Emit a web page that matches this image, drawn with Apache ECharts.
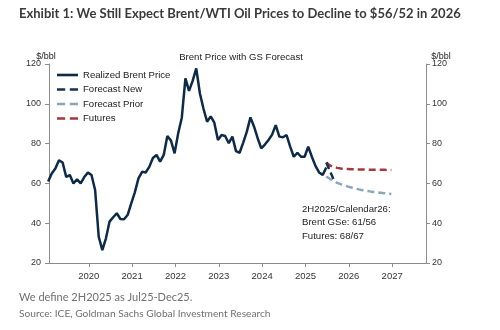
<!DOCTYPE html>
<html><head><meta charset="utf-8">
<script src="https://cdn.jsdelivr.net/npm/echarts@6/dist/echarts.min.js"></script>
<style>html,body{margin:0;padding:0;background:#fff}#c{width:500px;height:330px}</style>
</head><body><div id="c"></div>
<script>
// Monthly data, Jan 2019 .. Jun 2025 (realized Brent, $/bbl)
var realizedStart = [2019, 1];
var realized = [
  61, 65, 67.5, 71.6, 70.5, 63.3, 64.2, 60, 62, 60, 63.2, 65.4,
  64.2, 56.7, 33.2, 26.5, 32.4, 40.8, 43, 45, 42.1, 42, 44.1, 50,
  55.5, 62.5, 65.8, 65.5, 68.3, 72.8, 74.3, 70.9, 74.3, 83.8, 81.5, 75.1,
  85.2, 93, 112.8, 106.5, 111.5, 117.8, 105.3, 97.5, 91, 93.7, 90.5, 81.8,
  84.3, 83.8, 80.2, 83.5, 76.2, 75.4, 80.5, 86, 93.2, 88.5, 82.7, 77.6,
  79.5, 81.8, 84.5, 89.3, 83.5, 83.2, 84.3, 78.5, 73.4, 75.4, 73.4, 73.4,
  78.5, 73.4, 68.8, 65.5, 64.3, 68
];
// Forecasts start Jun 2025
var forecastStart = [2025, 6];
var forecastNew = [70.5, 66.3, 62];
var forecastPrior = [63.5, 62.3, 61.2, 60.3, 59.6, 59, 58.4, 57.9, 57.4, 57, 56.6, 56.3, 56, 55.7, 55.5, 55.3, 55.1, 54.9, 54.7];
var futures = [70.5, 69, 68.2, 67.8, 67.5, 67.3, 67.2, 67.1, 67.05, 67, 67, 66.9, 66.9, 66.85, 66.8, 66.8, 66.8, 66.75, 66.7];
var yearTicks = [2020, 2021, 2022, 2023, 2024, 2025, 2026, 2027];

function toPoints(start, vals) {
  return vals.map(function (v, i) {
    var m = start[1] + i; // month index, 1-based
    var y = start[0] + Math.floor((m - 1) / 12);
    var mm = ((m - 1) % 12) + 1;
    return [y + mm / 12 - 0.02, v];
  });
}

var font = '"Liberation Sans", Arial, sans-serif';
var axisCol = '#8c8c8c';
var solidIcon = 'path://M0,0H21V2.6H0Z';
var dashIcon = 'path://M0,0H8V2.6H0Z M12.5,0H20.5V2.6H12.5Z';
var chart = echarts.init(document.getElementById('c'), null, {renderer: 'canvas'});
chart.setOption({
  animation: false,
  backgroundColor: '#fff',
  grid: {left: 49, right: 74, top: 64, bottom: 67},
  title: [
    {text: 'Exhibit 1: We Still Expect Brent/WTI Oil Prices to Decline to $56/52 in 2026', left: 14, top: 2,
     textStyle: {fontFamily: 'Lato', fontWeight: 'bold', fontSize: 13, color: '#3a3a3a'}},
    {text: 'Brent Price with GS Forecast', left: 236, top: 47, textAlign: 'center',
     textStyle: {fontFamily: font, fontWeight: 'normal', fontSize: 9.6, color: '#222'}},
    {text: '$/bbl', left: 41, top: 47, textAlign: 'center',
     textStyle: {fontFamily: font, fontWeight: 'normal', fontSize: 9, color: '#222'}},
    {text: '$/bbl', left: 436, top: 47, textAlign: 'center',
     textStyle: {fontFamily: font, fontWeight: 'normal', fontSize: 9, color: '#222'}},
    {text: 'We define 2H2025 as Jul25-Dec25.', left: 14, top: 287,
     textStyle: {fontFamily: 'Lato', fontWeight: 'normal', fontSize: 11, color: '#707070'}},
    {text: 'Source: ICE, Goldman Sachs Global Investment Research', left: 14, top: 304,
     textStyle: {fontFamily: 'Lato', fontWeight: 'normal', fontSize: 10.2, color: '#707070'}}
  ],
  legend: {
    orient: 'vertical', left: 57, top: 70, padding: 0, itemWidth: 21, itemHeight: 3, itemGap: 4.5,
    textStyle: {fontFamily: font, fontSize: 9.6, color: '#222', padding: [0, 0, 0, 0]},
    data: [
      {name: 'Realized Brent Price', icon: solidIcon},
      {name: 'Forecast New', icon: dashIcon},
      {name: 'Forecast Prior', icon: dashIcon},
      {name: 'Futures', icon: dashIcon}
    ]
  },
  xAxis: {
    type: 'value', min: 2019.083, max: 2027.78,
    axisLine: {lineStyle: {color: axisCol}},
    axisTick: {show: true, length: 4, customValues: yearTicks, lineStyle: {color: axisCol}},
    axisLabel: {customValues: yearTicks, fontFamily: font, fontSize: 9.5, color: '#333', margin: 8,
      formatter: function (v) { return String(Math.round(v)); }},
    splitLine: {show: false}
  },
  yAxis: [
    {type: 'value', min: 20, max: 120, interval: 20, position: 'left',
     axisLine: {show: true, lineStyle: {color: axisCol}},
     axisTick: {show: true, length: 4, lineStyle: {color: axisCol}},
     axisLabel: {fontFamily: font, fontSize: 9, color: '#333', margin: 8},
     splitLine: {show: false}},
    {type: 'value', min: 20, max: 120, interval: 20, position: 'right',
     axisLine: {show: true, lineStyle: {color: axisCol}},
     axisTick: {show: true, length: 4, lineStyle: {color: axisCol}},
     axisLabel: {fontFamily: font, fontSize: 9, color: '#333', margin: 6},
     splitLine: {show: false}}
  ],
  graphic: [{
    type: 'text', left: 302, top: 203,
    style: {text: '2H2025/Calendar26:\nBrent GSe: 61/56\nFutures: 68/67', font: '9.6px ' + font, fill: '#222', lineHeight: 13.2}
  }],
  series: [
    {name: 'Forecast Prior', type: 'line', showSymbol: false, symbol: 'none', z: 2,
     data: toPoints(forecastStart, forecastPrior),
     lineStyle: {color: '#8da5ba', width: 2.5, type: [7, 4]}, itemStyle: {color: '#8da5ba'}},
    {name: 'Futures', type: 'line', showSymbol: false, symbol: 'none', z: 2,
     data: toPoints(forecastStart, futures),
     lineStyle: {color: '#a3393d', width: 2.5, type: [7, 4]}, itemStyle: {color: '#a3393d'}},
    {name: 'Forecast New', type: 'line', showSymbol: false, symbol: 'none', z: 3,
     data: toPoints(forecastStart, forecastNew),
     lineStyle: {color: '#16324f', width: 2.5, type: [7, 4]}, itemStyle: {color: '#16324f'}},
    {name: 'Realized Brent Price', type: 'line', showSymbol: false, symbol: 'none', z: 4,
     data: toPoints(realizedStart, realized),
     lineStyle: {color: '#0e2a45', width: 2.5}, itemStyle: {color: '#0e2a45'}}
  ]
});
</script></body></html>
